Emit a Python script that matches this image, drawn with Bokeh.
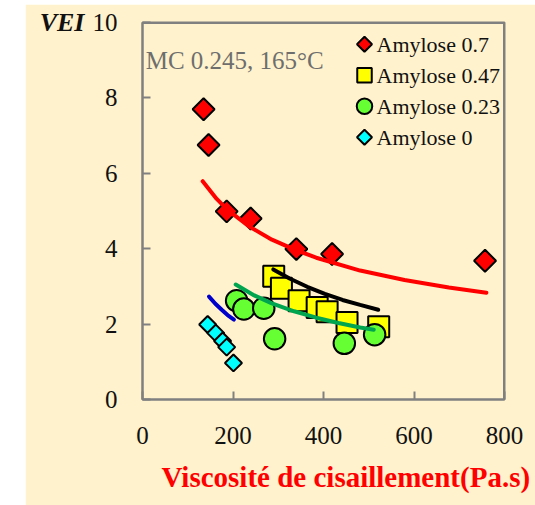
import numpy as np
from bokeh.plotting import figure
from bokeh.models import Title, Spacer, FixedTicker, Range1d, Span
from bokeh.core.properties import value
from bokeh.layouts import row, column
from bokeh.embed import file_html
from bokeh.resources import INLINE

# ---- data ----
visc_07 = [135, 146, 186, 239, 340, 419, 757]
vei_07 = [7.70, 6.75, 4.99, 4.80, 3.99, 3.86, 3.68]

visc_047 = [290, 307, 346, 386, 408, 452, 522]
vei_047 = [3.27, 2.95, 2.62, 2.44, 2.33, 2.04, 1.93]

visc_023 = [208, 224, 268, 292, 446, 513]
vei_023 = [2.62, 2.40, 2.42, 1.61, 1.49, 1.72]

visc_0 = [144, 162, 177, 186, 201]
vei_0 = [1.99, 1.76, 1.55, 1.39, 0.97]

# trend curves
trend_07_x = [133, 164, 188, 237, 286, 335, 384, 481, 579, 677, 760]
trend_07_y = [5.79, 5.32, 5.03, 4.58, 4.24, 3.98, 3.76, 3.42, 3.17, 2.97, 2.83]
trend_047_x = [289, 325, 364, 403, 442, 481, 521]
trend_047_y = [3.45, 3.21, 2.99, 2.80, 2.64, 2.51, 2.38]
trend_023_x = [206, 247, 286, 335, 384, 433, 481, 511]
trend_023_y = [3.05, 2.76, 2.55, 2.34, 2.17, 2.03, 1.91, 1.85]
trend_0_x = [147, 161, 175, 188, 202]
trend_0_y = [2.73, 2.54, 2.38, 2.24, 2.12]

series_labels = ["Amylose 0.7", "Amylose 0.47", "Amylose 0.23", "Amylose 0"]
x_ticks = [0, 200, 400, 600, 800]
y_ticks = [0, 2, 4, 6, 8, 10]
x_title = "Viscosité de cisaillement(Pa.s)"
y_title = "VEI"
note = "MC 0.245, 165°C"

# ---- styles ----
BG = "#FFF2CC"
SERIF = "Liberation Serif"
AXIS_GREY = "#808080"
fills = ["#FF0000", "#FFFF00", "#66FF33", "#00FFFF"]
markers = ["square", "square", "circle", "square"]
angles = [np.pi / 4, 0, 0, np.pi / 4]
data_sizes = [15.5, 21, 21.5, 12]
legend_sizes = [10.6, 14.5, 15.5, 10.6]
trend_colors = ["#FF0000", "#000000", "#00A550", "#0000CC"]

FW, FH = 362, 381  # frame size in px
p = figure(width=510, height=501, x_range=(0, 800), y_range=(0, 10),
           output_backend="svg", toolbar_location=None,
           min_border_left=117, min_border_right=31, min_border_top=18,
           min_border_bottom=102)
p.background_fill_color = BG
p.border_fill_color = BG
p.outline_line_color = AXIS_GREY
p.outline_line_width = 2
p.outline_line_alpha = 1.0
p.xgrid.visible = False
p.ygrid.visible = False

xax, yax = p.xaxis[0], p.yaxis[0]
for ax in (xax, yax):
    ax.axis_line_color = AXIS_GREY
    ax.axis_line_width = 2
    ax.major_tick_line_color = AXIS_GREY
    ax.major_tick_line_width = 2
    ax.major_tick_in = 8
    ax.major_tick_out = 0
    ax.minor_tick_line_color = None
    ax.major_label_text_font = SERIF
    ax.major_label_text_font_size = "25px"
    ax.major_label_text_color = "#111111"
xax.ticker = FixedTicker(ticks=x_ticks)
yax.ticker = FixedTicker(ticks=y_ticks)
xax.major_label_standoff = 27
yax.major_label_standoff = 25

# y title: horizontal, at the top end of the axis
yax.axis_label = y_title
yax.axis_label_orientation = "horizontal"
yax.axis_label_text_font = SERIF
yax.axis_label_text_font_size = "26px"
yax.axis_label_text_font_style = "bold italic"
yax.axis_label_text_color = "#111111"
yax.axis_label_standoff = 5
try:
    yax.axis_label_align = "end"
except Exception:
    pass

# frame lines on top and right
p.add_layout(Span(location=10, dimension="width", line_color=AXIS_GREY,
                  line_width=3))
p.add_layout(Span(location=800, dimension="height", line_color=AXIS_GREY,
                  line_width=3))

# x title below
p.add_layout(Title(text=x_title, align="left", offset=19, standoff=25,
                   text_font=SERIF, text_font_size="29px",
                   text_font_style="bold", text_color="#FF0000"), "below")

# data points
xs = [visc_07, visc_047, visc_023, visc_0]
ys = [vei_07, vei_047, vei_023, vei_0]
for i in range(4):
    p.scatter(xs[i], ys[i], marker=markers[i], angle=angles[i],
              size=data_sizes[i], fill_color=fills[i], line_color="black",
              line_width=2)

# trend curves
txs = [trend_07_x, trend_047_x, trend_023_x, trend_0_x]
tys = [trend_07_y, trend_047_y, trend_023_y, trend_0_y]
for i in range(4):
    p.line(txs[i], tys[i], line_color=trend_colors[i], line_width=4,
           line_cap="round")

# note
p.text(x=[7], y=[9.0], text=[note], text_font=value(SERIF),
       text_font_size="25px", text_color="#6E6E6E", text_baseline="alphabetic")

# legend (drawn in frame pixel space)
p.extra_x_ranges = {"lg": Range1d(0, FW)}
p.extra_y_ranges = {"lg": Range1d(0, FH)}
lg_x0, lg_top, lg_step = 222, 359, 31.3
for i, lab in enumerate(series_labels):
    yy = lg_top - i * lg_step
    p.scatter([lg_x0], [yy], marker=markers[i], angle=angles[i],
              size=legend_sizes[i], fill_color=fills[i], line_color="black",
              line_width=2, x_range_name="lg", y_range_name="lg")
    p.text(x=[lg_x0 + 12], y=[yy], text=[lab], text_font=value(SERIF),
           text_font_size="22px", text_color="#111111", text_baseline="middle",
           x_range_name="lg", y_range_name="lg")

layout = column(Spacer(height=4), row(Spacer(width=25), p))
open("out.html", "w").write(file_html(layout, INLINE))
